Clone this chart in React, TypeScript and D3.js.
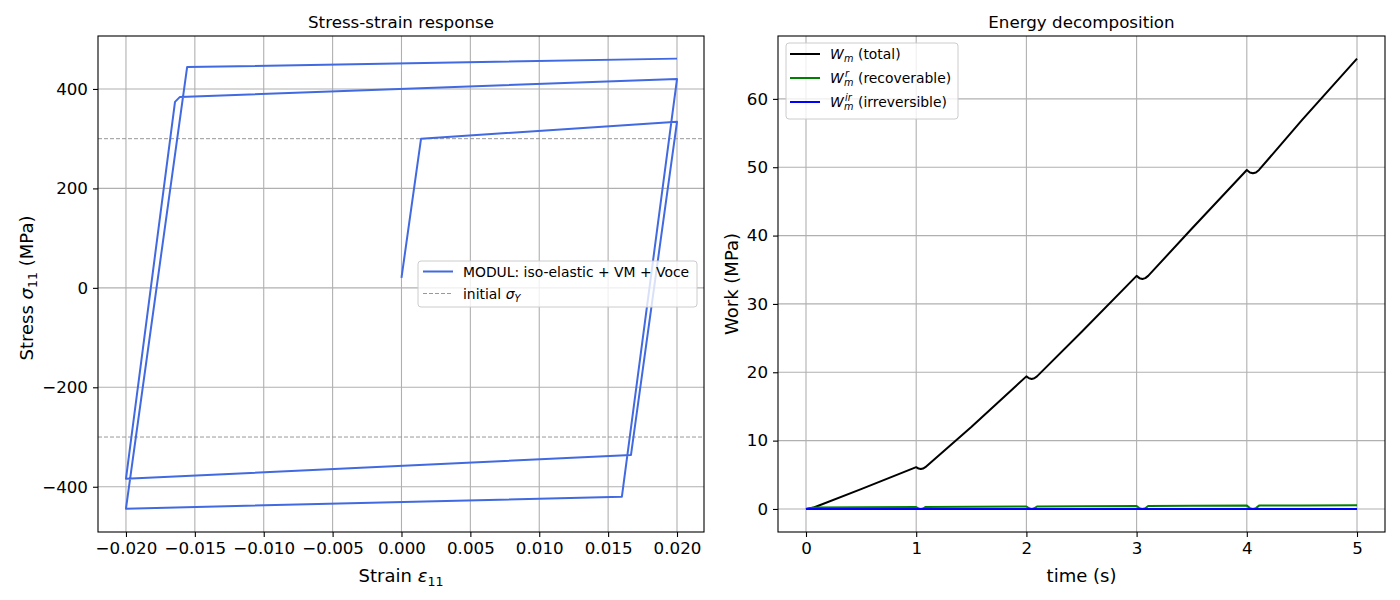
import React, { useEffect, useRef } from 'react';
import * as d3 from 'd3';

// stress-strain loop (MPa vs strain)
const strain = [0, 0.00142, 0.02, 0.01666, -0.02, -0.01644, -0.01608, 0.02, 0.016, -0.02, -0.01556, 0.02];
const stress = [20, 300, 334, -336, -384, 374, 384, 420, -420, -444, 444, 461];
const initialYield = [300, -300];
const strainTicks = [-0.02, -0.015, -0.01, -0.005, 0, 0.005, 0.01, 0.015, 0.02];
const stressTicks = [-400, -200, 0, 200, 400];

// energy decomposition vs time
const time = [0, 0.071, 0.5, 1.0, 1.021, 1.042, 1.062, 1.083, 1.5, 2.0, 2.024, 2.048, 2.072, 2.096, 2.5, 3.0, 3.026, 3.053, 3.079, 3.105, 3.5, 4.0, 4.028, 4.055, 4.083, 4.111, 4.5, 5.0];
const workTotal = [0, 0.21, 2.9, 6.12, 5.91, 5.84, 5.91, 6.12, 12.0, 19.4, 19.12, 19.03, 19.12, 19.4, 25.9, 34.1, 33.77, 33.66, 33.77, 34.1, 41.0, 49.6, 49.23, 49.11, 49.23, 49.6, 56.9, 65.9];
const workRecoverable = [0, 0.225, 0.25, 0.277, 0.069, 0, 0.069, 0.277, 0.33, 0.369, 0.092, 0, 0.092, 0.369, 0.41, 0.441, 0.11, 0, 0.11, 0.441, 0.47, 0.49, 0.123, 0, 0.123, 0.49, 0.51, 0.53];
const workIrreversible = [0, 0, 0, 0, 0, 0, 0, 0, 0, 0, 0, 0, 0, 0, 0, 0, 0, 0, 0, 0, 0, 0, 0, 0, 0, 0, 0, 0];
const timeTicks = [0, 1, 2, 3, 4, 5];
const workTicks = [0, 10, 20, 30, 40, 50, 60];

const FONT = 'DejaVu Sans, Verdana, sans-serif';
const TICK_FS = 16.7;
const LABEL_FS = 18;
const TITLE_FS = 16.7;
const LEGEND_FS = 13.9;
const minus = (s: string) => s.replace('-', '\u2212');

function drawGrid(svg, x, y, xTicks, yTicks) {
  const [x0, x1] = x.range();
  const [yb, yt] = y.range();
  const g = svg.append('g');
  g.append('g').selectAll('line').data(xTicks).join('line')
    .attr('x1', (d) => x(d)).attr('x2', (d) => x(d)).attr('y1', yt).attr('y2', yb)
    .attr('stroke', '#b0b0b0').attr('stroke-width', 1.1);
  g.append('g').selectAll('line').data(yTicks).join('line')
    .attr('x1', x0).attr('x2', x1).attr('y1', (d) => y(d)).attr('y2', (d) => y(d))
    .attr('stroke', '#b0b0b0').attr('stroke-width', 1.1);
  return g;
}

function drawSpines(svg, x, y, xTicks, yTicks, xFmt, yFmt) {
  const [x0, x1] = x.range();
  const [yb, yt] = y.range();
  svg.append('rect')
    .attr('x', x0).attr('y', yt).attr('width', x1 - x0).attr('height', yb - yt)
    .attr('fill', 'none').attr('stroke', '#000').attr('stroke-width', 1.1);

  const ax = svg.append('g')
    .attr('transform', 'translate(0,' + yb + ')')
    .call(d3.axisBottom(x).tickValues(xTicks).tickFormat(xFmt).tickSize(5).tickPadding(5));
  const ay = svg.append('g')
    .attr('transform', 'translate(' + x0 + ',0)')
    .call(d3.axisLeft(y).tickValues(yTicks).tickFormat(yFmt).tickSize(5).tickPadding(5));
  [ax, ay].forEach((a) => {
    a.select('.domain').remove();
    a.attr('font-size', TICK_FS).attr('font-family', FONT);
    a.selectAll('line').attr('stroke', '#000').attr('stroke-width', 1.1);
    a.selectAll('text').attr('fill', '#000');
  });
}

export default function App() {
  const ref = useRef(null);

  useEffect(() => {
    const svg = d3.select(ref.current);
    svg.selectAll('*').remove();

    // ---------- left: stress-strain ----------
    const xS = d3.scaleLinear().domain([-0.02203, 0.02196]).range([98, 704]);
    const yS = d3.scaleLinear().domain([-491, 506.5]).range([532, 36]);
    drawGrid(svg, xS, yS, strainTicks, stressTicks);

    svg.append('g').selectAll('line').data(initialYield).join('line')
      .attr('x1', 98).attr('x2', 704)
      .attr('y1', (d) => yS(d)).attr('y2', (d) => yS(d))
      .attr('stroke', '#999').attr('stroke-width', 1).attr('stroke-dasharray', '4,2');

    const loop = d3.line().x((d) => xS(d[0])).y((d) => yS(d[1]));
    svg.append('path')
      .attr('d', loop(strain.map((e, i) => [e, stress[i]])))
      .attr('fill', 'none').attr('stroke', '#4169e1').attr('stroke-width', 2)
      .attr('stroke-linejoin', 'round');

    drawSpines(svg, xS, yS, strainTicks, stressTicks,
      (d) => minus(d3.format('.3f')(d)), (d) => minus(d3.format('d')(d)));

    // left legend
    const lg = svg.append('g').attr('font-family', FONT).attr('font-size', LEGEND_FS);
    lg.append('rect').attr('x', 418).attr('y', 261).attr('width', 279).attr('height', 46)
      .attr('rx', 3).attr('fill', 'rgba(255,255,255,0.8)').attr('stroke', '#cccccc');
    lg.append('line').attr('x1', 423).attr('x2', 453).attr('y1', 271.5).attr('y2', 271.5)
      .attr('stroke', '#4169e1').attr('stroke-width', 2);
    lg.append('text').attr('x', 463).attr('y', 276.5).text('MODUL: iso-elastic + VM + Voce');
    lg.append('line').attr('x1', 423).attr('x2', 453).attr('y1', 293.5).attr('y2', 293.5)
      .attr('stroke', '#999').attr('stroke-width', 1).attr('stroke-dasharray', '4,2');
    const t2 = lg.append('text').attr('x', 463).attr('y', 298.5);
    t2.append('tspan').text('initial ');
    t2.append('tspan').attr('font-style', 'italic').text('σ');
    t2.append('tspan').attr('font-style', 'italic').attr('font-size', LEGEND_FS * 0.7).attr('dy', 3).text('Y');

    // ---------- right: energy ----------
    const xT = d3.scaleLinear().domain([-0.254, 5.254]).range([778, 1385]);
    const yW = d3.scaleLinear().domain([-3.37, 69.2]).range([532, 36]);
    drawGrid(svg, xT, yW, timeTicks, workTicks);

    const wl = d3.line().x((d) => xT(d[0])).y((d) => yW(d[1]));
    const series = [
      { vals: workTotal, color: '#000000' },
      { vals: workRecoverable, color: '#008000' },
      { vals: workIrreversible, color: '#0000ff' },
    ];
    series.forEach((s) => {
      svg.append('path')
        .attr('d', wl(time.map((t, i) => [t, s.vals[i]])))
        .attr('fill', 'none').attr('stroke', s.color).attr('stroke-width', 2)
        .attr('stroke-linejoin', 'round');
    });

    drawSpines(svg, xT, yW, timeTicks, workTicks, d3.format('d'), d3.format('d'));

    // right legend
    const rg = svg.append('g').attr('font-family', FONT).attr('font-size', LEGEND_FS);
    rg.append('rect').attr('x', 786).attr('y', 43).attr('width', 172).attr('height', 76)
      .attr('rx', 3).attr('fill', 'rgba(255,255,255,0.8)').attr('stroke', '#cccccc');
    const entries = [
      { sup: '', rest: '(total)', color: '#000000', cy: 54 },
      { sup: 'r', rest: '(recoverable)', color: '#008000', cy: 78 },
      { sup: 'ir', rest: '(irreversible)', color: '#0000ff', cy: 102 },
    ];
    entries.forEach((e) => {
      rg.append('line').attr('x1', 790).attr('x2', 820).attr('y1', e.cy).attr('y2', e.cy)
        .attr('stroke', e.color).attr('stroke-width', 2);
      const base = e.cy + 5;
      rg.append('text').attr('x', 830).attr('y', base).attr('font-style', 'italic').text('W');
      rg.append('text').attr('x', 844).attr('y', base + 3).attr('font-style', 'italic')
        .attr('font-size', LEGEND_FS * 0.7).text('m');
      if (e.sup) {
        rg.append('text').attr('x', 845).attr('y', base - 6).attr('font-style', 'italic')
          .attr('font-size', LEGEND_FS * 0.7).text(e.sup);
      }
      rg.append('text').attr('x', 858).attr('y', base).text(e.rest);
    });

    // ---------- titles & labels ----------
    const lab = svg.append('g').attr('font-family', FONT).attr('fill', '#000');
    lab.append('text').attr('x', 401).attr('y', 28).attr('text-anchor', 'middle')
      .attr('font-size', TITLE_FS).text('Stress-strain response');
    lab.append('text').attr('x', 1081.5).attr('y', 28).attr('text-anchor', 'middle')
      .attr('font-size', TITLE_FS).text('Energy decomposition');

    const xl = lab.append('text').attr('x', 401).attr('y', 582).attr('text-anchor', 'middle')
      .attr('font-size', LABEL_FS);
    xl.append('tspan').text('Strain ');
    xl.append('tspan').attr('font-style', 'italic').text('ε');
    xl.append('tspan').attr('font-size', LABEL_FS * 0.7).attr('dy', 4).text('11');

    const yl = lab.append('text').attr('transform', 'translate(33,288) rotate(-90)')
      .attr('text-anchor', 'middle').attr('font-size', LABEL_FS);
    yl.append('tspan').text('Stress ');
    yl.append('tspan').attr('font-style', 'italic').text('σ');
    yl.append('tspan').attr('font-size', LABEL_FS * 0.7).attr('dy', 4).text('11');
    yl.append('tspan').attr('dy', -4).text(' (MPa)');

    lab.append('text').attr('x', 1081.5).attr('y', 582).attr('text-anchor', 'middle')
      .attr('font-size', LABEL_FS).text('time (s)');
    lab.append('text').attr('transform', 'translate(738,284) rotate(-90)')
      .attr('text-anchor', 'middle').attr('font-size', LABEL_FS).text('Work (MPa)');
  }, []);

  return (
    <svg ref={ref} width={1400} height={600}
      style={{ position: 'absolute', left: 0, top: 0, background: '#fff' }} />
  );
}
